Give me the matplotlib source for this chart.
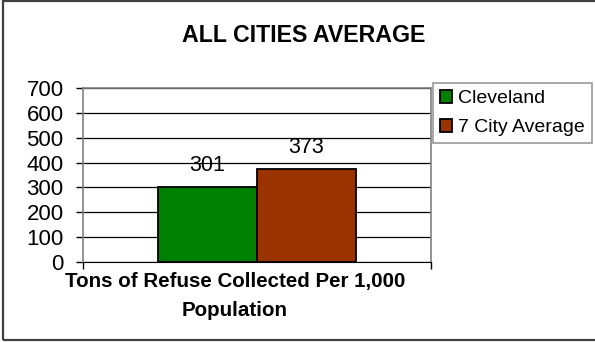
import matplotlib
matplotlib.use("Agg")
import matplotlib.pyplot as plt
from matplotlib.patches import Rectangle

plt.rcParams["font.family"] = ["Liberation Sans", "DejaVu Sans"]

# refuse collection, tons per 1,000 population
series = ["Cleveland", "7 City Average"]
values = [301, 373]
colors = ["#008000", "#993300"]
yticks = [0, 100, 200, 300, 400, 500, 600, 700]

W, H, DPI = 595, 342, 100
fig = plt.figure(figsize=(W / DPI, H / DPI), dpi=DPI)

# outer chart frame
fig.patches.append(Rectangle((3 / W, 2 / H), 1.2, (H - 3.5) / H, transform=fig.transFigure,
                             fill=False, edgecolor="#404040", lw=1.6, zorder=0))

ax = fig.add_axes([83 / W, (H - 262) / H, 348 / W, 174 / H])
bw = 0.285
for i, (lab, v, c) in enumerate(zip(series, values, colors)):
    x = 0.5 + (i - 0.5) * bw
    ax.bar(x, v, width=bw, color=c, edgecolor="black", linewidth=1.3, label=lab, zorder=3)
    ax.annotate(f"{v}", (x, v), xytext=(0, 8), textcoords="offset points",
                ha="center", va="bottom", fontsize=15.5)

ax.set_xlim(0, 1)
ax.set_ylim(0, 700)
ax.set_yticks(yticks)
ax.set_yticklabels([str(t) for t in yticks], fontsize=16)
ax.set_xticks([0, 1])
ax.set_xticklabels([])
ax.tick_params(axis="both", direction="out", length=5, width=1, color="black")
ax.tick_params(axis="y", pad=9)
ax.yaxis.grid(True, color="black", lw=0.9, zorder=1)
ax.set_axisbelow(True)
for s in ("top", "right", "left"):
    ax.spines[s].set_color("#808080")
    ax.spines[s].set_linewidth(1.2)
ax.spines["bottom"].set_color("black")

fig.text(304 / W, 1 - 35 / H, "ALL CITIES AVERAGE", ha="center", va="center",
         fontsize=16.7, fontweight="bold")
fig.text(235 / W, 1 - 296 / H, "Tons of Refuse Collected Per 1,000\nPopulation",
         ha="center", va="center", fontsize=14.8, fontweight="bold", linespacing=1.6)

leg = fig.legend(loc="upper left", bbox_to_anchor=(433 / W, 1 - 83 / H), fontsize=14,
                 frameon=True, fancybox=False, edgecolor="#808080", borderpad=0.35,
                 handlelength=0.65, handleheight=0.65, handletextpad=0.3,
                 labelspacing=0.6, borderaxespad=0)
leg.get_frame().set_linewidth(1.2)

fig.savefig("out.png", dpi=DPI)
